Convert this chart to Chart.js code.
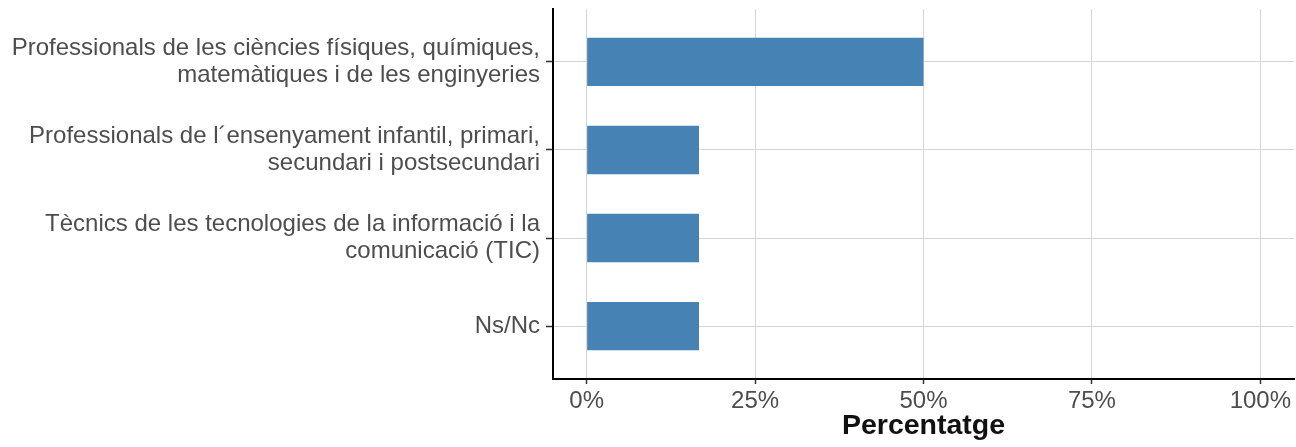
<!DOCTYPE html>
<html>
<head>
<meta charset="utf-8">
<script src="https://cdn.jsdelivr.net/npm/chart.js@4/dist/chart.umd.min.js"></script>
<style>
html,body{margin:0;padding:0;background:#fff;}
#wrap{width:1296px;height:447px;}
</style>
</head>
<body>
<div id="wrap"><canvas id="c" width="1296" height="447"></canvas></div>
<script>
const categories = [
  ["Professionals de les ciències físiques, químiques,", "matemàtiques i de les enginyeries"],
  ["Professionals de l´ensenyament infantil, primari,", "secundari i postsecundari"],
  ["Tècnics de les tecnologies de la informació i la", "comunicació (TIC)"],
  ["Ns/Nc"]
];
const values = [50, 16.67, 16.67, 16.67];
const xTicks = [0, 25, 50, 75, 100];
const xTickLabels = ["0%", "25%", "50%", "75%", "100%"];
const axisTitle = "Percentatge";

const FONT = "'Liberation Sans', Arial, Helvetica, sans-serif";
const yPositions = categories.map((c, i) => i + 1);

new Chart(document.getElementById('c'), {
  type: 'bar',
  data: {
    datasets: [{
      data: categories.map((c, i) => ({ x: values[i], y: yPositions[i] })),
      backgroundColor: '#4682B4',
      borderWidth: 0,
      barPercentage: 0.55,
      categoryPercentage: 1.0
    }]
  },
  options: {
    indexAxis: 'y',
    responsive: false,
    animation: false,
    layout: { padding: { top: 9, right: 2, left: 0, bottom: 0 } },
    plugins: { legend: { display: false }, tooltip: { enabled: false } },
    scales: {
      x: {
        type: 'linear',
        min: -5,
        max: 105,
        offset: false,
        afterBuildTicks: (s) => { s.ticks = xTicks.map(v => ({ value: v })); },
        afterFit: (s) => { s.height = 68; s.paddingLeft = 0; s.paddingRight = 0; },
        border: { display: true, color: '#000000', width: 2 },
        grid: { offset: false, color: '#d6d6d6', lineWidth: 1, drawTicks: true, tickLength: 5, tickColor: '#333333', tickWidth: 1.5 },
        ticks: {
          color: '#4d4d4d',
          font: { family: FONT, size: 24 },
          padding: 3,
          maxRotation: 0,
          autoSkip: false,
          callback: (v) => { const i = xTicks.indexOf(v); return i >= 0 ? xTickLabels[i] : ''; }
        },
        title: {
          display: true,
          text: axisTitle,
          color: '#111111',
          font: { family: FONT, size: 28.5, weight: 'bold' },
          padding: { top: 0, bottom: 4 }
        }
      },
      y: {
        type: 'linear',
        min: 0.4,
        max: 4.6,
        reverse: true,
        offset: false,
        afterBuildTicks: (s) => { s.ticks = yPositions.map(v => ({ value: v })); },
        afterFit: (s) => { s.width = 553; s.paddingTop = 0; s.paddingBottom = 0; },
        border: { display: true, color: '#000000', width: 2 },
        grid: { offset: false, color: '#d6d6d6', lineWidth: 1, drawTicks: true, tickLength: 7, tickColor: '#333333', tickWidth: 1.5 },
        ticks: {
          color: '#4d4d4d',
          font: { family: FONT, size: 24, lineHeight: 1.12 },
          padding: 6,
          autoSkip: false,
          callback: (v) => { const i = yPositions.indexOf(v); return i >= 0 ? categories[i] : ''; }
        }
      }
    }
  }
});
</script>
</body>
</html>
